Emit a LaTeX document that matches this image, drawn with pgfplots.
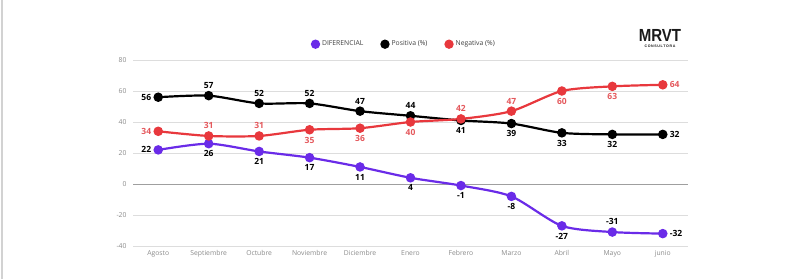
\documentclass[border=0pt]{standalone}
\usepackage{fontspec}
\setmainfont{Open Sans}
\newfontfamily\logofont{Liberation Sans}
\usepackage{pgfplots}
\pgfplotsset{compat=1.18}
\definecolor{dif}{HTML}{6A2BE8}
\definecolor{neg}{HTML}{E8383D}
\definecolor{negl}{HTML}{E4585C}
\definecolor{tickc}{HTML}{8A8A8A}
\definecolor{gridc}{HTML}{DDDDDD}

\pgfplotsset{
  lbl/.style 2 args={
    forget plot, draw=none, mark=none,
    nodes near coords,
    every node near coord/.append style={anchor=#1,
      font=\fontsize{8.5}{9}\bfseries, inner xsep=6pt, inner ysep=6pt, text=#2},
  },
}

\begin{document}
\begin{tikzpicture}[x=1pt,y=1pt]
\useasboundingbox (0,0) rectangle (800,279);
\draw[gray!35, line width=1.2pt] (2,0) -- (2,279);
\begin{axis}[
  at={(133pt,33pt)}, anchor=south west,
  scale only axis, width=555pt, height=186pt,
  xmin=-0.5, xmax=10.5, ymin=-40, ymax=80,
  xtick={0,...,10},
  xticklabels={Agosto,Septiembre,Octubre,Noviembre,Diciembre,Enero,Febrero,Marzo,Abril,Mayo,junio},
  ytick={-40,-20,0,20,40,60,80},
  axis line style={draw=none},
  major tick length=0pt,
  ymajorgrids,
  grid style={gridc, line width=0.9pt},
  tick label style={font=\fontsize{6.8}{7}\selectfont, text=tickc},
  yticklabel style={xshift=-3pt},
  xticklabel style={yshift=-1pt},
  /pgf/number format/assume math mode=true,
  clip=false,
  legend columns=3,
  legend style={at={(0.488,1.085)}, anchor=center, draw=none, fill=none,
    font=\fontsize{6.8}{7}\selectfont, text=black!75,
    /tikz/every even column/.append style={column sep=15pt}},
  legend image code/.code={\fill (0.12cm,0) circle (3.5pt);},
  every axis plot/.append style={line width=2.2pt, smooth, tension=0.45,
    mark=*, mark size=3.6pt},
]
\draw[gray!75, line width=0.9pt] (axis cs:-0.5,0) -- (axis cs:10.5,0);
% series lines
\addplot[dif] coordinates {(0,22) (1,26) (2,21) (3,17) (4,11) (5,4) (6,-1) (7,-8) (8,-27) (9,-31) (10,-32)};
\addlegendentry{DIFERENCIAL}
\addplot[black] coordinates {(0,56) (1,57) (2,52) (3,52) (4,47) (5,44) (6,41) (7,39) (8,33) (9,32) (10,32)};
\addlegendentry{Positiva (\%)}
\addplot[neg] coordinates {(0,34) (1,31) (2,31) (3,35) (4,36) (5,40) (6,42) (7,47) (8,60) (9,63) (10,64)};
\addlegendentry{Negativa (\%)}
% labels DIFERENCIAL
\addplot[lbl={east}{black}] coordinates {(0,22)};
\addplot[lbl={north}{black}] coordinates {(1,26) (2,21) (3,17) (4,11) (5,4) (6,-1) (7,-8) (8,-27)};
\addplot[lbl={south}{black}] coordinates {(9,-31)};
\addplot[lbl={west}{black}] coordinates {(10,-32)};
% labels Positiva
\addplot[lbl={east}{black}] coordinates {(0,56)};
\addplot[lbl={south}{black}] coordinates {(1,57) (2,52) (3,52) (4,47) (5,44)};
\addplot[lbl={north}{black}] coordinates {(6,41) (7,39) (8,33) (9,32)};
\addplot[lbl={west}{black}] coordinates {(10,32)};
% labels Negativa
\addplot[lbl={east}{negl}] coordinates {(0,34)};
\addplot[lbl={south}{negl}] coordinates {(1,31) (2,31) (6,42) (7,47)};
\addplot[lbl={north}{negl}] coordinates {(3,35) (4,36) (5,40) (8,60) (9,63)};
\addplot[lbl={west}{negl}] coordinates {(10,64)};
\end{axis}
\node[inner sep=0pt, align=center, text=black!90, anchor=north] at (660,250)
  {\logofont\fontsize{17.5}{17}\bfseries\scalebox{0.86}[1]{MRVT}\\[-5.5pt]
   \logofont\fontsize{3.6}{4}\bfseries C\,O\,N\,S\,U\,L\,T\,O\,R\,A};
\end{tikzpicture}
\end{document}
